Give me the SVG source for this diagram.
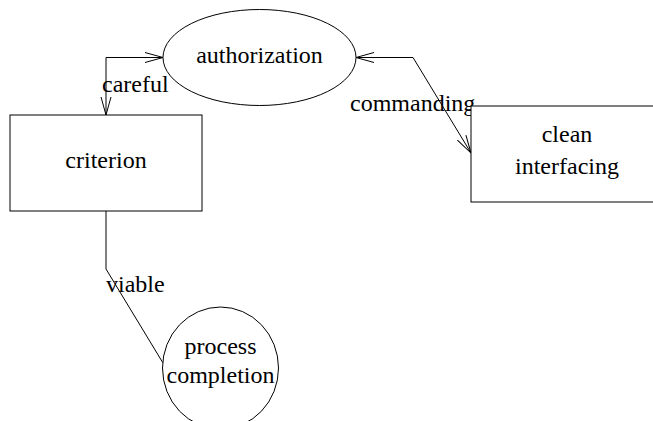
<svg xmlns="http://www.w3.org/2000/svg" width="653" height="421" viewBox="0 0 653 421">
<style>
.n{fill:#fff;stroke:#000;stroke-width:1}
text{font-family:'Liberation Serif','Times New Roman',Times,serif;font-size:24px;fill:#000}
.m{text-anchor:middle}
.c{fill:none;stroke:#000;stroke-width:1}
</style>
<defs>
<marker id="a" markerUnits="userSpaceOnUse" viewBox="-20 -7 22 14" refX="0" refY="0" markerWidth="22" markerHeight="14" orient="auto-start-reverse" overflow="visible">
<path d="M-18,-5 L0,0 L-18,5" fill="none" stroke="#000" stroke-width="1"/>
</marker>
</defs>
<g id="connectors">
<path class="c" d="M163,57.5 H106 V115" marker-start="url(#a)" marker-end="url(#a)"/>
<path class="c" d="M356,57.5 H413 L471,153" marker-start="url(#a)" marker-end="url(#a)"/>
<path class="c" d="M106,211 V269 L163,363"/>
<text x="102" y="92">careful</text>
<text x="350" y="111">commanding</text>
<text x="106" y="292">viable</text>
</g>
<g id="authorization">
<ellipse class="n" cx="259.5" cy="57.5" rx="96.5" ry="48"/>
<text class="m" x="259.5" y="63">authorization</text>
</g>
<g id="criterion">
<rect class="n" x="10" y="115" width="192" height="96"/>
<text class="m" x="106" y="168">criterion</text>
</g>
<g id="clean_interfacing">
<rect class="n" x="471" y="106" width="192" height="96"/>
<text class="m" x="567" y="142">clean</text>
<text class="m" x="567" y="174">interfacing</text>
</g>
<g id="process_completion">
<ellipse class="n" cx="220.5" cy="368" rx="58" ry="61"/>
<text class="m" x="220.5" y="354">process</text>
<text class="m" x="220.5" y="383">completion</text>
</g>
</svg>
